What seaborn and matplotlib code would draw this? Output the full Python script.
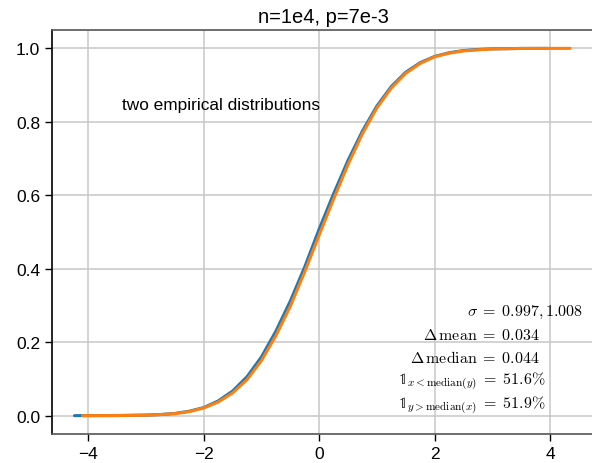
import matplotlib
matplotlib.use("Agg")
import matplotlib.pyplot as plt
import seaborn as sns
import pandas as pd

# Empirical CDF of the first sample (x)
x_vals = [-4.24, -3.5, -3.0, -2.75, -2.5, -2.25, -2.0, -1.75, -1.5, -1.25, -1.0,
          -0.75, -0.5, -0.25, 0.0, 0.25, 0.5, 0.75, 1.0, 1.25, 1.5, 1.75, 2.0,
          2.25, 2.5, 2.75, 3.0, 3.5, 3.95]
x_cdf = [0.0, 0.0003, 0.0015, 0.003, 0.006, 0.012, 0.022, 0.040, 0.067, 0.106, 0.160,
         0.230, 0.312, 0.405, 0.508, 0.604, 0.695, 0.775, 0.843, 0.896, 0.935, 0.961,
         0.978, 0.988, 0.994, 0.997, 0.9986, 0.9998, 1.0]

# Empirical CDF of the second sample (y)
y_vals = [-4.10, -3.5, -3.0, -2.75, -2.5, -2.25, -2.0, -1.75, -1.5, -1.25, -1.0,
          -0.75, -0.5, -0.25, 0.0, 0.25, 0.5, 0.75, 1.0, 1.25, 1.5, 1.75, 2.0,
          2.25, 2.5, 2.75, 3.0, 3.5, 4.35]
y_cdf = [0.0, 0.0002, 0.0013, 0.0028, 0.0055, 0.011, 0.021, 0.037, 0.062, 0.098, 0.150,
         0.218, 0.298, 0.392, 0.492, 0.590, 0.684, 0.768, 0.838, 0.892, 0.932, 0.959,
         0.977, 0.987, 0.993, 0.996, 0.9984, 0.9997, 1.0]

title = "n=1e4, p=7e-3"
label = "two empirical distributions"
stats_lines = [
    r"$\sigma\;=\;0.997, 1.008$",
    r"$\Delta\,\mathrm{mean}\;=\;0.034$",
    r"$\Delta\,\mathrm{median}\;=\;0.044$",
    r"$\mathbb{1}_{x<\mathrm{median}(y)}\;=\;51.6\%$",
    r"$\mathbb{1}_{y>\mathrm{median}(x)}\;=\;51.9\%$",
]

sns.set_style("ticks")
plt.rcParams["font.family"] = ["Liberation Sans", "DejaVu Sans"]
plt.rcParams["mathtext.fontset"] = "cm"
plt.rcParams["axes.unicode_minus"] = True
plt.rcParams["text.color"] = "black"
plt.rcParams["xtick.color"] = "black"
plt.rcParams["ytick.color"] = "black"

fig = plt.figure(figsize=(5.92, 4.64), dpi=100)
ax = fig.add_axes([52 / 592, 1 - 435 / 464, 543 / 592, 404 / 464])

df = pd.concat([
    pd.DataFrame({"value": x_vals, "cdf": x_cdf, "sample": "x"}),
    pd.DataFrame({"value": y_vals, "cdf": y_cdf, "sample": "y"}),
])
sns.lineplot(data=df, x="value", y="cdf", hue="sample", sort=True,
             palette=["#1f77b4", "#ff7f0e"], linewidth=2.2, legend=False, ax=ax)

ax.set_xlim(-4.63, 4.78)
ax.set_ylim(-0.05, 1.05)
ax.set_xticks([-4, -2, 0, 2, 4])
ax.set_yticks([0.0, 0.2, 0.4, 0.6, 0.8, 1.0])
ax.set_yticklabels(["0.0", "0.2", "0.4", "0.6", "0.8", "1.0"])
ax.set_xlabel("")
ax.set_ylabel("")
ax.grid(True, color="#c8c8c8", linewidth=1.1)
ax.tick_params(labelsize=12.5, length=5, width=1, color="black")
ax.spines["left"].set_color("black")
ax.spines["bottom"].set_color("#555555")
ax.spines["top"].set_color("#555555")
for s in ax.spines.values():
    s.set_linewidth(1.2)
ax.set_title(title, fontsize=14.5, pad=6)

ax.text(-3.41, 0.847, label, fontsize=12.4, va="center", ha="left")

stat_x = [4.574, 3.826, 3.826, 3.913, 3.913]
stat_y = [0.283, 0.221, 0.161, 0.095, 0.030]
for tx, ty, s in zip(stat_x, stat_y, stats_lines):
    ax.text(tx, ty, s, fontsize=11.5, ha="right", va="center")

fig.savefig("out.png", dpi=100)
